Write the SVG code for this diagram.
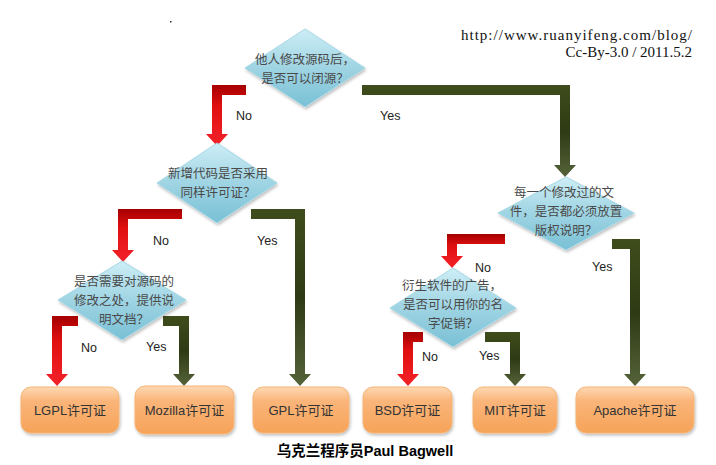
<svg xmlns="http://www.w3.org/2000/svg" width="716" height="465" viewBox="0 0 716 465">
<style>
.dt{font-family:"Noto Sans CJK SC","Liberation Sans",sans-serif;font-size:12.5px;fill:#4a4a4a;text-anchor:middle}
.bt{font-family:"Liberation Sans","Noto Sans CJK SC",sans-serif;font-size:13px;fill:#333;text-anchor:middle}
.lb{font-family:"Liberation Sans",Arial,sans-serif;font-size:12.5px;fill:#222}
.hd{font-family:"Liberation Serif",serif;font-size:15px;fill:#111;text-anchor:end}
.cap{font-family:"Liberation Sans","Noto Sans CJK SC",sans-serif;font-size:14.5px;font-weight:bold;fill:#000;text-anchor:middle}
.dia{fill:url(#gDia);stroke:#a6d8e6;stroke-width:1;stroke-linejoin:round;filter:url(#sh)}
.box{fill:url(#gBox);stroke:#f6b476;stroke-width:1;filter:url(#sh)}
.red{fill:url(#gRed)}
.grn{fill:url(#gGrn)}
</style>
<defs>
<linearGradient id="gDia" x1="0" y1="0" x2="0" y2="1">
<stop offset="0" stop-color="#cdeef6"/>
<stop offset="0.5" stop-color="#9fd4e3"/>
<stop offset="1" stop-color="#79c0d5"/>
</linearGradient>
<linearGradient id="gBox" x1="0" y1="0" x2="0" y2="1">
<stop offset="0" stop-color="#fdd9b4"/>
<stop offset="0.3" stop-color="#fab57a"/>
<stop offset="1" stop-color="#f6a358"/>
</linearGradient>
<linearGradient id="gRed" x1="0" y1="0" x2="0" y2="1">
<stop offset="0" stop-color="#a50000"/>
<stop offset="0.35" stop-color="#e01010"/>
<stop offset="1" stop-color="#f2222a"/>
</linearGradient>
<linearGradient id="gGrn" x1="0" y1="0" x2="0" y2="1">
<stop offset="0" stop-color="#3f4d1c"/>
<stop offset="0.5" stop-color="#2e3a14"/>
<stop offset="1" stop-color="#55633a"/>
</linearGradient>
<filter id="sh" x="-10%" y="-10%" width="130%" height="140%">
<feDropShadow dx="1" dy="2" stdDeviation="1.5" flood-color="#000" flood-opacity="0.25"/>
</filter>
</defs>
<rect width="716" height="465" fill="#fff"/>
<rect x="170" y="21" width="1.5" height="1.5" fill="#333"/>
<text class="hd" x="692" y="40" textLength="231" lengthAdjust="spacing">http://www.ruanyifeng.com/blog/</text>
<text class="hd" x="692" y="57">Cc-By-3.0 / 2011.5.2</text>

<g id="connectors">
<path class="red" d="M246,85 H212 V134 H206 L217,146 L228,134 H222 V95 H246 Z"/>
<path class="grn" d="M362,85 H570 V165 H576 L565,177 L554,165 H560 V95 H362 Z"/>
<path class="red" d="M182,209 H118 V250 H112 L123,262 L134,250 H128 V219 H182 Z"/>
<path class="grn" d="M251,209 H305 V374 H311 L300,386 L289,374 H295 V219 H251 Z"/>
<path class="red" d="M78,316 H52 V374 H46 L57,386 L68,374 H62 V326 H78 Z"/>
<path class="grn" d="M163,316 H189 V374 H195 L184,386 L173,374 H179 V326 H163 Z"/>
<path class="red" d="M505,234 H447 V256 H441 L452,268 L463,256 H457 V244 H505 Z"/>
<path class="grn" d="M612,239 H640 V374 H646 L635,386 L624,374 H630 V249 H612 Z"/>
<path class="red" d="M423,332 H403 V374 H397 L408,386 L419,374 H413 V342 H423 Z"/>
<path class="grn" d="M485,332 H520 V374 H526 L515,386 L504,374 H510 V342 H485 Z"/>
<text class="lb" x="236" y="120">No</text>
<text class="lb" x="380" y="120">Yes</text>
<text class="lb" x="153" y="245">No</text>
<text class="lb" x="257" y="245">Yes</text>
<text class="lb" x="81" y="352">No</text>
<text class="lb" x="146" y="351">Yes</text>
<text class="lb" x="475" y="272">No</text>
<text class="lb" x="592" y="271">Yes</text>
<text class="lb" x="422" y="361">No</text>
<text class="lb" x="479" y="360">Yes</text>
</g>

<g id="d1">
<polygon class="dia" points="305,29 365,68 305,107 245,68"/>
<text class="dt" x="305" y="64">他人修改源码后，</text>
<text class="dt" x="305" y="83">是否可以闭源？</text>
</g>
<g id="d2">
<polygon class="dia" points="217,143 277,183 217,223 157,183"/>
<text class="dt" x="218" y="178">新增代码是否采用</text>
<text class="dt" x="218" y="197">同样许可证？</text>
</g>
<g id="d3">
<polygon class="dia" points="122,261 186,300 122,340 58,300"/>
<text class="dt" x="124" y="286">是否需要对源码的</text>
<text class="dt" x="124" y="305">修改之处，提供说</text>
<text class="dt" x="124" y="324">明文档？</text>
</g>
<g id="d4">
<polygon class="dia" points="566,177 634,213 566,250 498,213"/>
<text class="dt" x="564" y="197">每一个修改过的文</text>
<text class="dt" x="566" y="216">件，是否都必须放置</text>
<text class="dt" x="566" y="235">版权说明？</text>
</g>
<g id="d5">
<polygon class="dia" points="453,268 516,308 453,347 390,308"/>
<text class="dt" x="452" y="290">衍生软件的广告，</text>
<text class="dt" x="453" y="309">是否可以用你的名</text>
<text class="dt" x="453" y="328">字促销？</text>
</g>

<g id="lgpl"><rect class="box" x="21" y="387" width="98" height="46" rx="10"/><text class="bt" x="70" y="415">LGPL许可证</text></g>
<g id="mozilla"><rect class="box" x="135" y="386" width="99" height="48" rx="10"/><text class="bt" x="184.5" y="415">Mozilla许可证</text></g>
<g id="gpl"><rect class="box" x="253" y="387" width="96" height="46" rx="10"/><text class="bt" x="301" y="415">GPL许可证</text></g>
<g id="bsd"><rect class="box" x="363" y="387" width="89" height="46" rx="10"/><text class="bt" x="407.5" y="415">BSD许可证</text></g>
<g id="mit"><rect class="box" x="473" y="387" width="84" height="46" rx="10"/><text class="bt" x="515" y="415">MIT许可证</text></g>
<g id="apache"><rect class="box" x="576" y="387" width="118" height="46" rx="10"/><text class="bt" x="635" y="415">Apache许可证</text></g>

<text class="cap" x="365" y="456">乌克兰程序员Paul Bagwell</text>
</svg>
